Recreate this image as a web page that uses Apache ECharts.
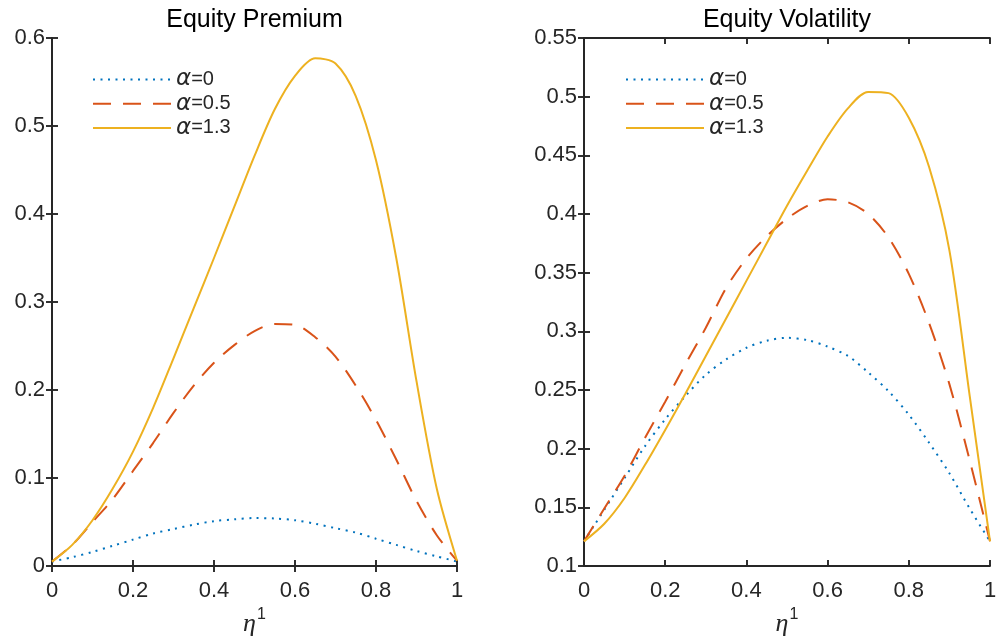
<!DOCTYPE html>
<html>
<head>
<meta charset="utf-8">
<script src="https://cdn.jsdelivr.net/npm/echarts@6/dist/echarts.min.js"></script>
<style>
html,body{margin:0;padding:0;background:#fff;}
#chart{width:996px;height:639px;}
</style>
</head>
<body>
<div id="chart"></div>
<script>
// ---- data ----
const xs = [0, 0.05, 0.1, 0.15, 0.2, 0.25, 0.3, 0.35, 0.4, 0.45, 0.5, 0.55, 0.6, 0.65, 0.7, 0.75, 0.8, 0.85, 0.9, 0.95, 1];
const seriesNames = ['α=0', 'α=0.5', 'α=1.3'];
const legendLabels = ['0', '0.5', '1.3'];
const titles = ['Equity Premium', 'Equity Volatility'];

const premiumA0  = [0.005, 0.010, 0.016, 0.023, 0.030, 0.037, 0.042, 0.047, 0.051, 0.053, 0.0545, 0.054, 0.052, 0.048, 0.043, 0.038, 0.031, 0.024, 0.017, 0.011, 0.005];
const premiumA05 = [0.005, 0.024, 0.050, 0.076, 0.108, 0.140, 0.174, 0.205, 0.231, 0.251, 0.267, 0.275, 0.274, 0.260, 0.238, 0.205, 0.166, 0.121, 0.074, 0.035, 0.006];
const premiumA13 = [0.005, 0.024, 0.052, 0.088, 0.130, 0.180, 0.236, 0.293, 0.350, 0.408, 0.466, 0.519, 0.557, 0.577, 0.571, 0.534, 0.461, 0.350, 0.210, 0.088, 0.006];

const volA0  = [0.121, 0.148, 0.175, 0.202, 0.225, 0.245, 0.263, 0.276, 0.286, 0.292, 0.2945, 0.2925, 0.287, 0.279, 0.265, 0.249, 0.229, 0.205, 0.179, 0.149, 0.121];
const volA05 = [0.121, 0.149, 0.177, 0.209, 0.240, 0.272, 0.303, 0.337, 0.362, 0.381, 0.396, 0.407, 0.4125, 0.410, 0.400, 0.380, 0.349, 0.307, 0.255, 0.190, 0.121];
const volA13 = [0.121, 0.136, 0.158, 0.186, 0.216, 0.247, 0.279, 0.311, 0.343, 0.375, 0.407, 0.437, 0.466, 0.490, 0.504, 0.503, 0.482, 0.440, 0.369, 0.245, 0.121];

const xTicks = {min: 0, max: 1, interval: 0.2};
const yTicksPremium = {min: 0, max: 0.6, interval: 0.1};
const yTicksVol = {min: 0.1, max: 0.55, interval: 0.05};

// ---- styles ----
const TXT = '#262626';
const FONT = 'Liberation Sans, Arial, Helvetica, sans-serif';
const GREEK = 'DejaVu Sans, sans-serif';
const colors = ['#0072BD', '#D95319', '#EDB120'];
const dashes = [[2, 5.5], [18, 12], 'solid'];

function pairs(ys) { return xs.map((x, i) => [x, ys[i]]); }

const axisLineStyle = {show: true, lineStyle: {color: TXT, width: 1.9}};
const tickStyle = {show: true, inside: true, length: 6, lineStyle: {color: TXT, width: 1.9}};

function bottomX(grid) {
  return {
    gridIndex: grid, type: 'value', position: 'bottom', min: xTicks.min, max: xTicks.max, interval: xTicks.interval,
    axisLine: axisLineStyle, axisTick: tickStyle, splitLine: {show: false},
    axisLabel: {color: TXT, fontSize: 22, fontFamily: FONT, margin: 14, showMinLabel: true, showMaxLabel: true},
    name: '{i|η}{s|1}', nameLocation: 'middle', nameGap: 38,
    nameTextStyle: {color: TXT, fontFamily: FONT, rich: {
      i: {fontFamily: 'Liberation Serif, DejaVu Serif, serif', fontStyle: 'italic', fontSize: 26, color: TXT, lineHeight: 30, verticalAlign: 'bottom'},
      s: {fontFamily: FONT, fontSize: 16, color: TXT, lineHeight: 30, verticalAlign: 'top', padding: [0, 0, 0, 1]}
    }}
  };
}
function topX(grid, title) {
  return {
    gridIndex: grid, type: 'value', position: 'top', min: xTicks.min, max: xTicks.max, interval: xTicks.interval,
    axisLine: axisLineStyle, axisTick: tickStyle, splitLine: {show: false}, axisLabel: {show: false},
    name: title, nameLocation: 'middle', nameGap: 5,
    nameTextStyle: {color: '#000', fontSize: 25, fontFamily: FONT}
  };
}
function leftY(grid, t) {
  return {
    gridIndex: grid, type: 'value', position: 'left', min: t.min, max: t.max, interval: t.interval,
    axisLine: axisLineStyle, axisTick: tickStyle, splitLine: {show: false},
    axisLabel: {color: TXT, fontSize: 22, fontFamily: FONT, margin: 7, showMinLabel: true, showMaxLabel: true}
  };
}
function rightY(grid, t) {
  return {
    gridIndex: grid, type: 'value', position: 'right', min: t.min, max: t.max, interval: t.interval,
    axisLine: axisLineStyle, axisTick: tickStyle, splitLine: {show: false}, axisLabel: {show: false}
  };
}

function makeSeries(name, ys, k, xi, yi) {
  return {
    name: name, type: 'line', xAxisIndex: xi, yAxisIndex: yi, data: pairs(ys),
    symbol: 'none', smooth: 0.3, silent: true,
    lineStyle: {color: colors[k], width: 2, type: dashes[k], cap: 'butt'},
    itemStyle: {color: colors[k]}
  };
}

const legendRich = {
  a: {fontFamily: GREEK, fontStyle: 'italic', fontSize: 23, color: TXT, lineHeight: 22},
  b: {fontFamily: FONT, fontSize: 20, color: TXT, lineHeight: 22}
};
function makeLegend(left) {
  return {
    data: seriesNames, left: left, top: 68, orient: 'vertical', padding: 0,
    itemWidth: 78, itemHeight: 22, itemGap: 1.2, selectedMode: false,
    itemStyle: {opacity: 0},
    formatter: function (name) { return '{a|α}{b|=' + legendLabels[seriesNames.indexOf(name)] + '}'; },
    textStyle: {rich: legendRich, color: TXT}
  };
}

const chart = echarts.init(document.getElementById('chart'), null, {renderer: 'canvas'});
chart.setOption({
  animation: false,
  backgroundColor: '#fff',
  grid: [
    {left: 52, right: 539, top: 38, bottom: 73, outerBoundsMode: 'none', containLabel: false},
    {left: 584, right: 6, top: 38, bottom: 73, outerBoundsMode: 'none', containLabel: false}
  ],
  xAxis: [bottomX(0), topX(0, titles[0]), bottomX(1), topX(1, titles[1])],
  yAxis: [leftY(0, yTicksPremium), rightY(0, yTicksPremium), leftY(1, yTicksVol), rightY(1, yTicksVol)],
  legend: [makeLegend(92), makeLegend(625)],
  series: [
    makeSeries(seriesNames[0], premiumA0, 0, 0, 0),
    makeSeries(seriesNames[1], premiumA05, 1, 0, 0),
    makeSeries(seriesNames[2], premiumA13, 2, 0, 0),
    makeSeries(seriesNames[0], volA0, 0, 2, 2),
    makeSeries(seriesNames[1], volA05, 1, 2, 2),
    makeSeries(seriesNames[2], volA13, 2, 2, 2)
  ]
});
</script>
</body>
</html>
